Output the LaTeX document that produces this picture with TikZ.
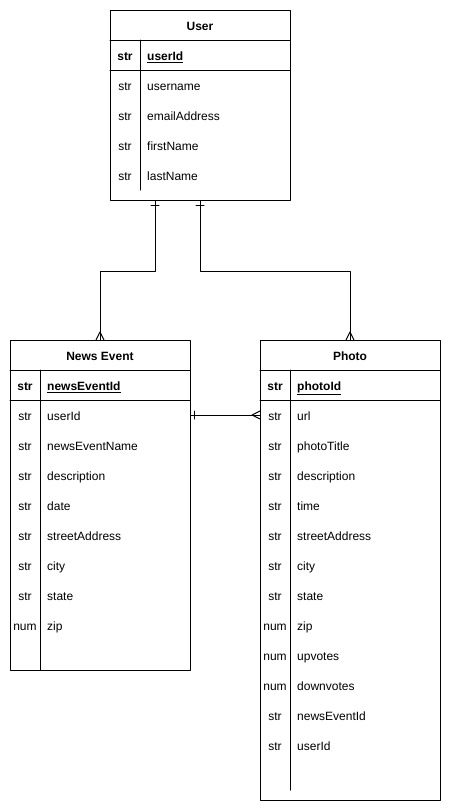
\documentclass[tikz,border=0pt]{standalone}
\usepackage{fontspec}
\setmainfont{Liberation Sans}

\begin{document}
\begin{tikzpicture}[x=1pt, y=-1pt, font=\fontsize{12}{14}\selectfont, line join=round, line cap=round]
	\tikzset{
		entity/.style={draw, line width=1pt, minimum width=180pt, anchor=north west, inner sep=0pt},
		head/.style={anchor=base, inner sep=0pt, font=\fontsize{12}{14}\selectfont\bfseries},
		type/.style={anchor=base, inner sep=0pt},
		field/.style={anchor=base west, inner sep=0pt},
		rel/.style={line width=1pt}
	}
	\useasboundingbox (0,0) rectangle (451,812);
	% User
	\node[entity, minimum height=190pt] (user) at (110,10) {};
	\draw[rel] (110,40) -- (290,40) (110,70) -- (290,70) (140,40) -- (140,190);
	\node[head] (user-title) at (200,30.7) {User};
	\node[head] (user-kt) at (125,60.7) {str};
	\node[head, anchor=base west] (user-key) at (147,60.7) {\underline{userId}};
	\foreach \t/\n [count=\i] in {str/username, str/emailAddress, str/firstName, str/lastName} {
		\node[type] (user-t\i) at (125,60.7+30*\i) {\t};
		\node[field] (user-f\i) at (147,60.7+30*\i) {\n};
	}
	% News Event
	\node[entity, minimum height=330pt] (news) at (10,340) {};
	\draw[rel] (10,370) -- (190,370) (10,400) -- (190,400) (40,370) -- (40,670);
	\node[head] (news-title) at (100,360.7) {News Event};
	\node[head] (news-kt) at (25,390.7) {str};
	\node[head, anchor=base west] (news-key) at (47,390.7) {\underline{newsEventId}};
	\foreach \t/\n [count=\i] in {str/userId, str/newsEventName, str/description, str/date,
			str/streetAddress, str/city, str/state, num/zip} {
		\node[type] (news-t\i) at (25,390.7+30*\i) {\t};
		\node[field] (news-f\i) at (47,390.7+30*\i) {\n};
	}
	% Photo
	\node[entity, minimum height=460pt] (photo) at (260,340) {};
	\draw[rel] (260,370) -- (440,370) (260,400) -- (440,400) (290,370) -- (290,790);
	\node[head] (photo-title) at (350,360.7) {Photo};
	\node[head] (photo-kt) at (275,390.7) {str};
	\node[head, anchor=base west] (photo-key) at (297,390.7) {\underline{photoId}};
	\foreach \t/\n [count=\i] in {str/url, str/photoTitle, str/description, str/time,
			str/streetAddress, str/city, str/state, num/zip, num/upvotes, num/downvotes,
			str/newsEventId, str/userId} {
		\node[type] (photo-t\i) at (275,390.7+30*\i) {\t};
		\node[field] (photo-f\i) at (297,390.7+30*\i) {\n};
	}
	% relations
	\draw[rel] ([xshift=-45pt]user.south) -- ++(0,70) -| (news.north);
	\draw[rel] (user.south) -- ++(0,70) -| (photo.north);
	\draw[rel] ([yshift=-75pt]news.north east) -- ([yshift=-75pt]photo.north west);
	% one
	\draw[rel] (151,205) -- (159,205) (196,205) -- (204,205) (194,411) -- (194,419);
	% many
	\draw[rel] (96,340) -- (100,332) -- (104,340) (346,340) -- (350,332) -- (354,340)
		(260,411) -- (252,415) -- (260,419);
\end{tikzpicture}
\end{document}
